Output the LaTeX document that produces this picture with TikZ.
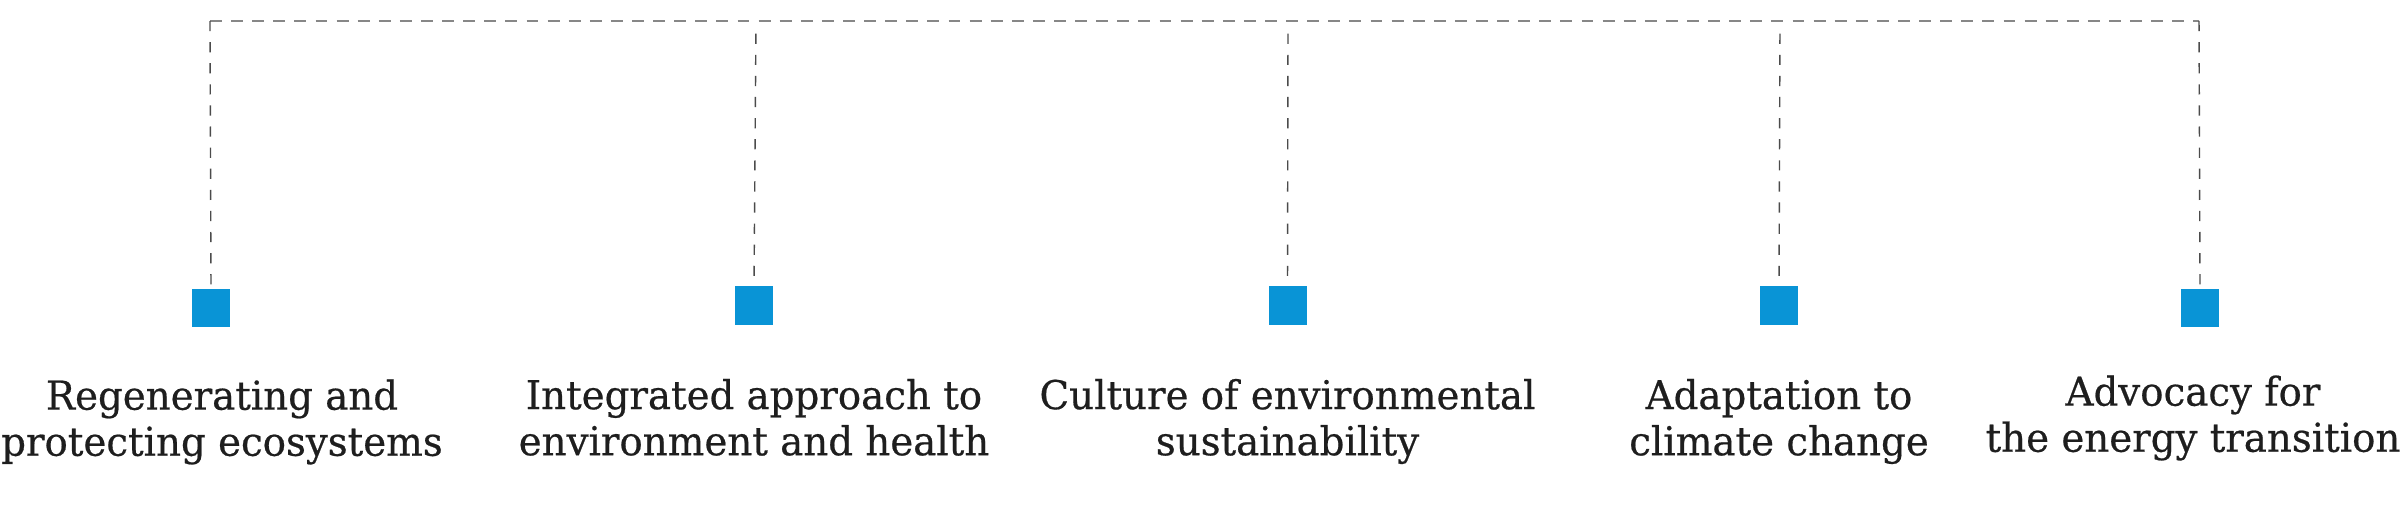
\documentclass[tikz,border=0pt]{standalone}
\usepackage{fontspec}
\setmainfont{DejaVu Serif}[FakeStretch=0.975,FakeBold=0.5]
\usetikzlibrary{positioning}
\definecolor{pillarblue}{RGB}{9,148,214}
\definecolor{topgray}{RGB}{135,135,135}
\definecolor{dropgray}{RGB}{75,75,75}
\definecolor{inkgray}{RGB}{30,30,30}

\begin{document}
\begin{tikzpicture}[x=0.01cm, y=-0.01cm, font=\fontsize{11.3}{13.1}\selectfont, node distance=0.5cm]
    \tikzstyle{pillar}=[rectangle,fill=pillarblue,minimum size=0.38cm,inner sep=0pt]
    \tikzstyle{caption}=[align=center,inner sep=0pt,text=inkgray]
    \tikzstyle{rail}=[draw=topgray,line width=0.3pt,dash pattern=on 3.4pt off 2.6pt]
    \tikzstyle{drop}=[draw=dropgray,line width=0.4pt,dash pattern=on 2.9pt off 3.1pt]

    \useasboundingbox (0,0) rectangle (2400,521);

	\node[pillar] (regen) at (211,308) {};
	\node[pillar] (health) at (754,305.5) {};
	\node[pillar] (culture) at (1287.5,305.5) {};
	\node[pillar] (climate) at (1779,305.5) {};
	\node[pillar] (energy) at (2200,308) {};

	\coordinate (top1) at (210,21);
	\coordinate (top2) at (756,21);
	\coordinate (top3) at (1288,21);
	\coordinate (top4) at (1780,21);
	\coordinate (top5) at (2199,21);

    \path[rail] (top1) -- (top5);
    \path[drop] (top1) -- (regen.north);
    \path[drop, shorten <=9\pgflinewidth] (top2) -- (health.north);
    \path[drop, shorten <=9\pgflinewidth] (top3) -- (culture.north);
    \path[drop, shorten <=9\pgflinewidth] (top4) -- (climate.north);
    \path[drop] (top5) -- (energy.north);

    \node[caption, below=0.51cm of regen, xshift=0.11cm] (regentext) {Regenerating and\\protecting ecosystems};
    \node[caption, below=0.53cm of health] (healthtext) {Integrated approach to\\environment and health};
    \node[caption, below=0.53cm of culture] (culturetext) {Culture of environmental\\sustainability};
    \node[caption, below=0.53cm of climate] (climatetext) {Adaptation to\\climate change};
    \node[caption, below=0.47cm of energy, xshift=-0.07cm] (energytext) {Advocacy for\\the energy transition};
\end{tikzpicture}
\end{document}
